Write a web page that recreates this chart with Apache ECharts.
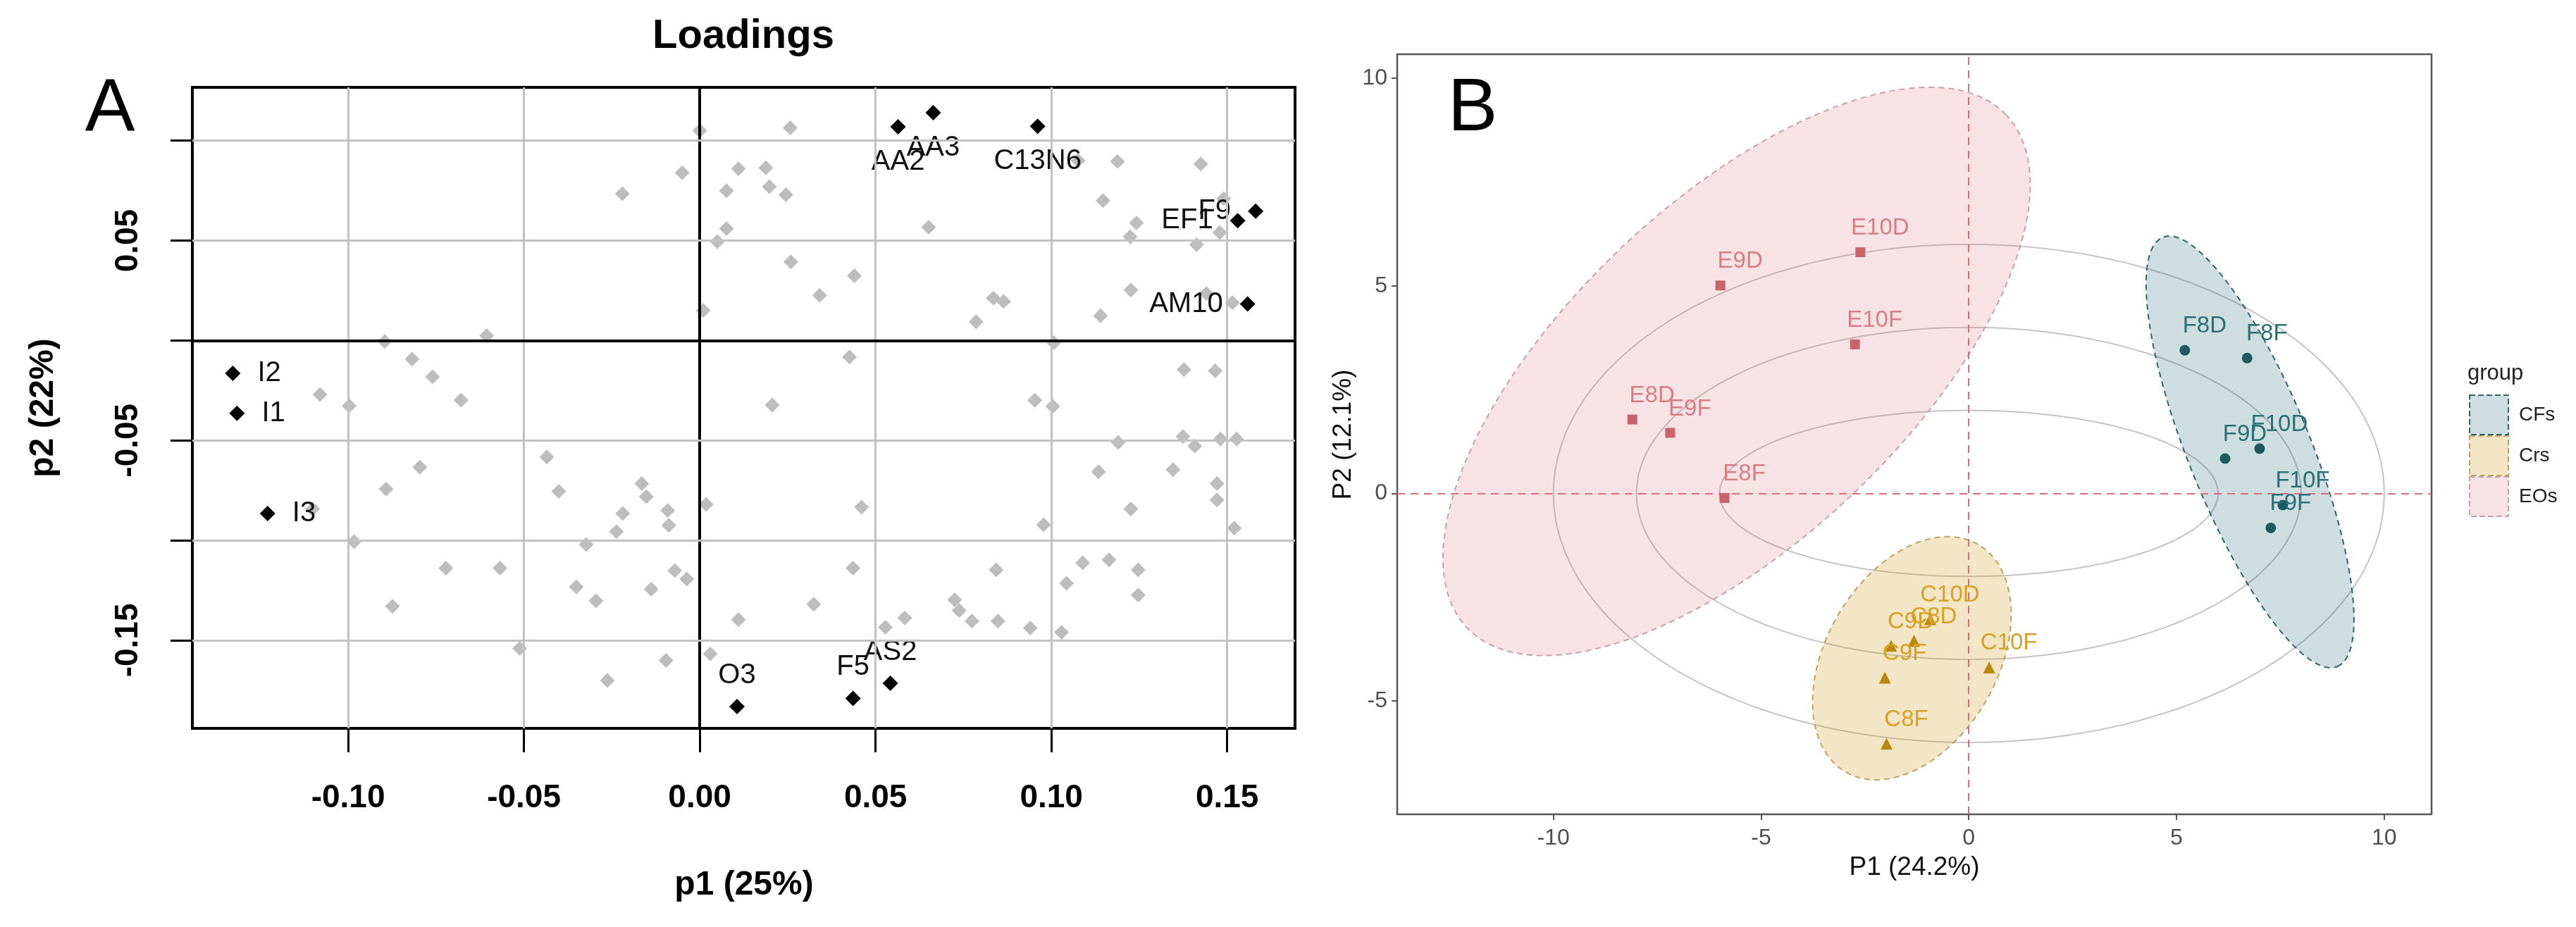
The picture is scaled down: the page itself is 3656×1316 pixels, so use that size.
<!DOCTYPE html>
<html><head><meta charset="utf-8">
<script src="https://cdn.jsdelivr.net/npm/echarts@6/dist/echarts.min.js"></script>
<style>html,body{margin:0;padding:0;background:#fff}#c{width:3656px;height:1316px}</style>
</head><body><div id="c"></div>
<script>
// ---------------- Panel A : loadings ----------------
const loadTicksX = [-0.10, -0.05, 0.00, 0.05, 0.10, 0.15];
const loadTicksY = [-0.15, -0.10, -0.05, 0.00, 0.05, 0.10];
const loadLabelsY = [-0.15, -0.05, 0.05];
const grayLoadings = [
  [0.000,0.105],[-0.005,0.084],[-0.022,0.0735],[0.011,0.086],[0.0076,0.075],[0.0076,0.056],[0.005,0.0495],[0.001,0.015],
  [-0.0606,0.0024],[-0.0896,-0.0005],[-0.0818,-0.0093],[-0.0760,-0.0182],[-0.1080,-0.0270],[-0.0679,-0.0298],[-0.0997,-0.0327],
  [-0.0796,-0.0634],[-0.0892,-0.0743],[-0.0435,-0.0583],[-0.0401,-0.0755],[-0.0165,-0.0716],[-0.0152,-0.0781],[-0.0219,-0.0866],
  [-0.0091,-0.0851],[-0.0088,-0.0925],[-0.0237,-0.0957],[-0.0323,-0.1021],[-0.0983,-0.1007],[-0.0722,-0.1139],[-0.0568,-0.1139],
  [-0.0351,-0.1233],[-0.0295,-0.1303],[-0.0138,-0.1245],[-0.0071,-0.1151],[-0.0037,-0.1194],[-0.0874,-0.1330],[0.0018,-0.0820],
  [0.0110,-0.1397],[-0.0512,-0.1541],[-0.0096,-0.1601],[-0.0263,-0.1701],[0.0030,-0.1568],[-0.1101,-0.0843],
  [0.0257,0.1064],[0.0188,0.0864],[0.0198,0.0770],[0.0245,0.0729],[0.0651,0.0567],[0.1188,0.0896],[0.1425,0.0884],
  [0.1147,0.0700],[0.1242,0.0588],[0.1224,0.0520],[0.1479,0.0541],[0.1413,0.0480],[0.149,0.071],[0.1076,0.090],
  [0.0259,0.0394],[0.0440,0.0324],[0.0341,0.0226],[0.0835,0.0212],[0.0864,0.0195],[0.0786,0.0094],[0.1226,0.0253],
  [0.1140,0.0124],[0.1441,0.0235],[0.1515,0.0189],[0.1007,-0.0011],[0.0426,-0.0082],[0.1377,-0.0146],[0.1466,-0.0152],
  [0.0206,-0.0323],[0.0953,-0.0299],[0.1004,-0.0329],[0.1190,-0.0510],[0.1374,-0.0481],[0.1408,-0.0528],[0.1481,-0.0493],
  [0.1527,-0.0493],[0.1134,-0.0657],[0.1346,-0.0646],[0.1471,-0.0716],[0.1471,-0.0798],[0.1226,-0.0843],[0.0978,-0.0922],
  [0.1520,-0.0939],[0.0460,-0.0834],[0.0436,-0.1139],[0.0843,-0.1148],[0.1089,-0.1113],[0.1164,-0.1098],[0.1247,-0.1148],
  [0.1043,-0.1215],[0.1247,-0.1274],[0.0324,-0.1320],[0.0725,-0.1298],[0.0738,-0.1351],[0.0774,-0.1404],[0.0848,-0.1404],
  [0.0940,-0.1439],[0.1029,-0.1460],[0.0583,-0.1388],[0.0528,-0.1435]
];
const keyNames = ['AA2','AA3','C13N6','F9','EF1','AM10','I2','I1','I3','O3','F5','AS2'];
const keyP1 = [0.0564,0.0664,0.0961,0.1581,0.1530,0.1558,-0.1328,-0.1316,-0.1229,0.0106,0.0436,0.0542];
const keyP2 = [0.1070,0.1140,0.1072,0.0647,0.0600,0.0183,-0.0164,-0.0364,-0.0866,-0.1832,-0.1791,-0.1715];

// ---------------- Panel B : scores ----------------
const scoreTicksX = [-10, -5, 0, 5, 10];
const scoreTicksY = [-5, 0, 5, 10];
const groupNames = ['CFs', 'Crs', 'EOs'];
const cfNames = ['F8D','F8F','F9D','F10D','F10F','F9F'];
const cfP1 = [5.2, 6.7, 6.17, 7.0, 7.56, 7.27];
const cfP2 = [3.45, 3.26, 0.84, 1.08, -0.28, -0.83];
const crNames = ['C10D','C8D','C9D','C9F','C8F','C10F'];
const crP1 = [-0.93, -1.32, -1.87, -2.02, -1.98, 0.49];
const crP2 = [-3.03, -3.55, -3.67, -4.44, -6.03, -4.19];
const eoNames = ['E10D','E9D','E10F','E8D','E9F','E8F'];
const eoP1 = [-2.61, -5.98, -2.74, -8.1, -7.19, -5.88];
const eoP2 = [5.81, 5.01, 3.59, 1.78, 1.46, -0.11];
// group ellipses: [centre P1, centre P2, semi-major, semi-minor, angle (deg)]
const ellipseCFs = [6.77, 1.0, 5.58, 1.47, -67.9];
const ellipseCrs = [-1.37, -3.97, 3.17, 2.06, 59.8];
const ellipseEOs = [-5.59, 2.94, 8.96, 4.07, 43.6];
// concentric reference ellipses around the origin: semi-axes
const refSemiP1 = [6, 8, 10];
const refSemiP2 = [2, 4, 6];

const FONT = "'Liberation Sans', Arial, sans-serif";

function ellipseRender(fill, stroke, dash, lw) {
  return function (p, api) {
    const cx = api.value(0), cy = api.value(1), a = api.value(2), b = api.value(3);
    const ang = api.value(4) * Math.PI / 180;
    const pts = [];
    for (let i = 0; i <= 180; i++) {
      const t = i / 180 * 2 * Math.PI;
      const ex = a * Math.cos(t), ey = b * Math.sin(t);
      pts.push(api.coord([cx + ex * Math.cos(ang) - ey * Math.sin(ang), cy + ex * Math.sin(ang) + ey * Math.cos(ang)]));
    }
    return { type: 'polygon', shape: { points: pts }, style: { fill: fill, stroke: stroke, lineWidth: lw, lineDash: dash } };
  };
}

const posMap = { AA2:'bottom', AA3:'bottom', C13N6:'bottom', F9:'left', EF1:'left', AM10:'left',
  I2:'right', I1:'right', I3:'right', O3:'top', F5:'top', AS2:'top' };
const distMap = { bottom: 19, top: 13, left: 24, right: 24 };

const groupStyle = {
  CFs: { pt: '#1d5a5f', label: '#2a7076', fill: 'rgba(31,106,112,0.22)', stroke: '#2c666b', symbol: 'circle', size: 15 },
  Crs: { pt: '#b8890c', label: '#d6a125', fill: 'rgba(205,155,30,0.25)', stroke: '#c2a160', symbol: 'triangle', size: 17 },
  EOs: { pt: '#c9636b', label: '#d97d85', fill: 'rgba(217,115,125,0.2)', stroke: '#c9a0a5', symbol: 'rect', size: 14 }
};

function groupPoints(name, names, p1, p2) {
  const s = groupStyle[name];
  return {
    type: 'scatter', name: name, xAxisIndex: 1, yAxisIndex: 1, z: 6,
    symbol: s.symbol, symbolSize: s.size,
    itemStyle: { color: s.pt, opacity: 1 },
    data: names.map((n, i) => ({ name: n, value: [p1[i], p2[i]] })),
    label: { show: true, formatter: '{b}', position: 'inside', offset: [28, -34],
      color: s.label, fontSize: 33, fontFamily: FONT },
    silent: true, animation: false
  };
}

const chart = echarts.init(document.getElementById('c'), null, { renderer: 'canvas' });

const noLine = { show: false, onZero: false };

const option = {
  backgroundColor: '#fff',
  animation: false,
  grid: [
    { left: 273, top: 124, width: 1565, height: 910, show: true, borderColor: '#000', borderWidth: 4, containLabel: false, outerBoundsMode: 'none' },
    { left: 1983, top: 77, width: 1468, height: 1079, show: true, borderColor: '#555', borderWidth: 2.5, containLabel: false, outerBoundsMode: 'none' }
  ],
  xAxis: [
    { type: 'value', gridIndex: 0, min: -0.1443, max: 0.1693,
      axisLine: noLine, splitLine: { show: false },
      axisTick: { show: true, customValues: loadTicksX, length: 34, lineStyle: { color: '#000', width: 3 } },
      axisLabel: { customValues: loadTicksX, formatter: v => v.toFixed(2), fontSize: 46, fontWeight: 'bold', color: '#000', fontFamily: FONT, margin: 76 } },
    { type: 'value', gridIndex: 1, min: -13.76, max: 11.14,
      axisLine: noLine, splitLine: { show: false },
      axisTick: { show: true, customValues: scoreTicksX, length: 8, lineStyle: { color: '#555', width: 2 } },
      axisLabel: { customValues: scoreTicksX, fontSize: 32, color: '#4d4d4d', fontFamily: FONT, margin: 18 } }
  ],
  yAxis: [
    { type: 'value', gridIndex: 0, min: -0.1941, max: 0.1267,
      axisLine: noLine, splitLine: { show: false },
      axisTick: { show: true, customValues: loadTicksY, length: 31, lineStyle: { color: '#000', width: 3 } },
      axisLabel: { customValues: loadLabelsY, formatter: v => v.toFixed(2), rotate: 90, fontSize: 46, fontWeight: 'bold', color: '#000', fontFamily: FONT, margin: 68 } },
    { type: 'value', gridIndex: 1, min: -7.73, max: 10.58,
      axisLine: noLine, splitLine: { show: false },
      axisTick: { show: true, customValues: scoreTicksY, length: 8, lineStyle: { color: '#555', width: 2 } },
      axisLabel: { customValues: scoreTicksY, fontSize: 32, color: '#4d4d4d', fontFamily: FONT, margin: 14 } }
  ],
  legend: {
    data: groupNames.map(g => ({ name: g, icon: 'rect',
      itemStyle: { color: groupStyle[g].fill, borderColor: groupStyle[g].stroke, borderWidth: 2, borderType: 'dashed' } })),
    orient: 'vertical', left: 3504, top: 560, itemWidth: 55, itemHeight: 56, itemGap: 0, padding: 0,
    selectedMode: false,
    textStyle: { fontSize: 28, color: '#222', fontFamily: FONT, padding: [0, 0, 0, 10] }
  },
  graphic: [
    { type: 'text', x: 156, y: 156, style: { text: 'A', font: "106px " + FONT, fill: '#000', textAlign: 'center', textVerticalAlign: 'middle' } },
    { type: 'text', x: 1055, y: 52, style: { text: 'Loadings', font: "bold 58px " + FONT, fill: '#000', textAlign: 'center', textVerticalAlign: 'middle' } },
    { type: 'text', x: 1056, y: 1257, style: { text: 'p1 (25%)', font: "bold 48px " + FONT, fill: '#000', textAlign: 'center', textVerticalAlign: 'middle' } },
    { type: 'text', x: 62, y: 579, rotation: Math.PI / 2, style: { text: 'p2 (22%)', font: "bold 48px " + FONT, fill: '#000', textAlign: 'center', textVerticalAlign: 'middle' } },
    { type: 'text', x: 2090, y: 156, style: { text: 'B', font: "106px " + FONT, fill: '#000', textAlign: 'center', textVerticalAlign: 'middle' } },
    { type: 'text', x: 2717, y: 1232, style: { text: 'P1 (24.2%)', font: "37px " + FONT, fill: '#111', textAlign: 'center', textVerticalAlign: 'middle' } },
    { type: 'text', x: 1907, y: 617, rotation: Math.PI / 2, style: { text: 'P2 (12.1%)', font: "37px " + FONT, fill: '#111', textAlign: 'center', textVerticalAlign: 'middle' } },
    { type: 'text', x: 3502, y: 530, style: { text: 'group', font: "31px " + FONT, fill: '#222', textAlign: 'left', textVerticalAlign: 'middle' } }
  ],
  series: [
    // Panel A grid lines (drawn through the axes' scales)
    { type: 'scatter', xAxisIndex: 0, yAxisIndex: 0, data: [], z: 1, silent: true,
      markLine: { symbol: 'none', silent: true, animation: false, label: { show: false },
        data: loadTicksX.map(v => ({ xAxis: v, lineStyle: { color: v === 0 ? '#000' : '#c2c2c2', width: v === 0 ? 4 : 3, type: 'solid' } }))
          .concat(loadTicksY.map(v => ({ yAxis: v, lineStyle: { color: v === 0 ? '#000' : '#c2c2c2', width: v === 0 ? 4 : 3, type: 'solid' } }))) } },
    { type: 'scatter', name: 'other', xAxisIndex: 0, yAxisIndex: 0, z: 3, symbol: 'diamond', symbolSize: 21,
      itemStyle: { color: '#bdbdbd', opacity: 1 }, data: grayLoadings, silent: true, animation: false },
    { type: 'scatter', name: 'key', xAxisIndex: 0, yAxisIndex: 0, z: 4, symbol: 'diamond', symbolSize: 22,
      itemStyle: { color: '#000', opacity: 1 },
      data: keyNames.map((n, i) => ({ name: n, value: [keyP1[i], keyP2[i]],
        label: { position: posMap[n], distance: distMap[posMap[n]] } })),
      label: { show: true, formatter: '{b}', fontSize: 40, color: '#111', fontFamily: FONT },
      silent: true, animation: false },

    // Panel B reference ellipses
    { type: 'custom', name: 'ref', xAxisIndex: 1, yAxisIndex: 1, z: 2, silent: true, animation: false,
      data: refSemiP1.map((a, i) => [0, 0, a, refSemiP2[i], 0]),
      encode: { x: 0, y: 1 },
      renderItem: ellipseRender('none', '#c4c4c4', null, 2) },
    // zero lines
    { type: 'scatter', xAxisIndex: 1, yAxisIndex: 1, data: [], z: 2, silent: true,
      markLine: { symbol: 'none', silent: true, animation: false, label: { show: false },
        lineStyle: { color: '#df6a78', width: 2, type: [11, 8] },
        data: [{ xAxis: 0 }, { yAxis: 0 }] } },
    // group ellipses
    { type: 'custom', name: 'CFs', xAxisIndex: 1, yAxisIndex: 1, z: 3, silent: true, animation: false,
      data: [ellipseCFs], encode: { x: 0, y: 1 },
      renderItem: ellipseRender(groupStyle.CFs.fill, groupStyle.CFs.stroke, [8, 6], 2) },
    { type: 'custom', name: 'Crs', xAxisIndex: 1, yAxisIndex: 1, z: 3, silent: true, animation: false,
      data: [ellipseCrs], encode: { x: 0, y: 1 },
      renderItem: ellipseRender(groupStyle.Crs.fill, groupStyle.Crs.stroke, [8, 6], 2) },
    { type: 'custom', name: 'EOs', xAxisIndex: 1, yAxisIndex: 1, z: 3, silent: true, animation: false,
      data: [ellipseEOs], encode: { x: 0, y: 1 },
      renderItem: ellipseRender(groupStyle.EOs.fill, groupStyle.EOs.stroke, [8, 6], 2) },
    groupPoints('CFs', cfNames, cfP1, cfP2),
    groupPoints('Crs', crNames, crP1, crP2),
    groupPoints('EOs', eoNames, eoP1, eoP2)
  ]
};
chart.setOption(option);
</script>
</body></html>
